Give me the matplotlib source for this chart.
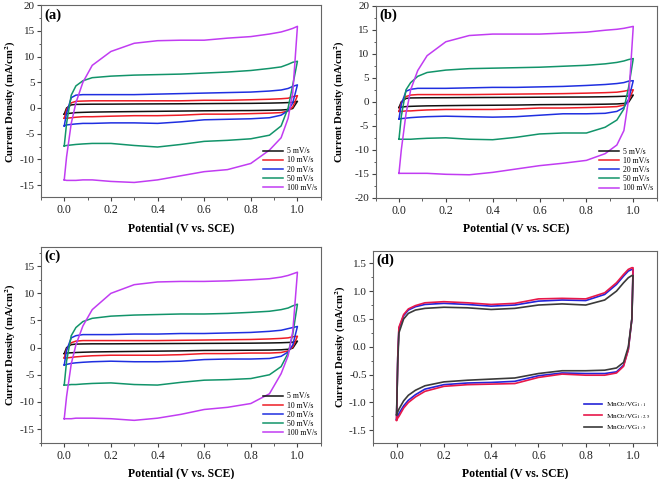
import matplotlib
matplotlib.use("Agg")
import matplotlib.pyplot as plt
from matplotlib.ticker import MultipleLocator, FormatStrFormatter

plt.rcParams['font.family'] = ['Liberation Serif', 'DejaVu Serif']
plt.rcParams['mathtext.fontset'] = 'stix'
plt.rcParams['axes.unicode_minus'] = False

# potential grid (V vs. SCE) shared by the loops of panels a-c
E = [0, 0.01, 0.03, 0.05, 0.08, 0.12, 0.2, 0.3, 0.4, 0.5, 0.6, 0.7, 0.8, 0.88, 0.93, 0.96, 0.98, 1.0]
rates = ['5 mV/s', '10 mV/s', '20 mV/s', '50 mV/s', '100 mV/s']
rate_colors = ['#111111', '#ee1c25', '#1f2fe0', '#12946a', '#c13cf2']

# panel (a): anodic (up) and cathodic (dn) branches, mA/cm2
a_up = [
    [-1.2, 0.0, 0.6, 0.7, 0.72, 0.74, 0.75, 0.78, 0.8, 0.82, 0.85, 0.88, 0.9, 0.95, 1.0, 1.05, 1.1, 1.3],
    [-2.0, -0.3, 1.0, 1.3, 1.35, 1.4, 1.4, 1.4, 1.4, 1.4, 1.5, 1.5, 1.6, 1.7, 1.8, 1.9, 2.2, 2.4],
    [-3.5, -1.0, 2.0, 2.5, 2.6, 2.6, 2.6, 2.6, 2.7, 2.8, 2.9, 3.0, 3.1, 3.3, 3.5, 3.8, 4.2, 4.5],
    [-7.4, -3.0, 2.5, 4.3, 5.3, 5.9, 6.2, 6.4, 6.5, 6.6, 6.8, 7.0, 7.3, 7.7, 8.0, 8.5, 8.9, 9.1],
    [-14.0, -9.5, -3.0, 1.0, 5.0, 8.3, 11.0, 12.6, 13.1, 13.2, 13.2, 13.6, 13.9, 14.4, 14.8, 15.2, 15.5, 15.9],
]
a_dn = [
    [-1.2, -1.1, -1.0, -0.9, -0.85, -0.8, -0.75, -0.7, -0.65, -0.6, -0.55, -0.52, -0.5, -0.45, -0.4, -0.3, -0.1, 1.3],
    [-2.0, -2.0, -1.9, -1.8, -1.7, -1.7, -1.6, -1.5, -1.5, -1.4, -1.2, -1.2, -1.1, -1.0, -0.9, -0.6, 0.2, 2.4],
    [-3.5, -3.3, -3.2, -3.1, -3.0, -3.0, -2.9, -2.9, -3.0, -2.7, -2.3, -2.2, -2.1, -1.9, -1.4, -0.5, 1.0, 4.5],
    [-7.4, -7.3, -7.2, -7.1, -7.0, -6.9, -6.9, -7.3, -7.6, -7.1, -6.5, -6.3, -6.0, -5.3, -3.5, 0.0, 4.5, 9.1],
    [-14.0, -14.1, -14.1, -14.1, -14.0, -14.0, -14.3, -14.5, -14.0, -13.2, -12.4, -12.0, -10.8, -8.2, -5.8, -2.0, 3.0, 15.9],
]

# panel (b)
b_up = [
    [-1.2, 0.0, 0.7, 0.8, 0.82, 0.84, 0.85, 0.88, 0.9, 0.92, 0.95, 0.98, 1.0, 1.05, 1.1, 1.15, 1.2, 1.4],
    [-2.0, -0.2, 1.1, 1.4, 1.5, 1.5, 1.5, 1.5, 1.55, 1.6, 1.65, 1.7, 1.8, 1.9, 2.0, 2.2, 2.4, 2.5],
    [-3.6, -0.5, 2.2, 2.6, 2.8, 2.8, 2.8, 2.9, 3.0, 3.0, 3.1, 3.2, 3.4, 3.6, 3.8, 4.0, 4.3, 4.4],
    [-7.8, -3.0, 2.5, 4.0, 5.3, 6.1, 6.6, 6.9, 7.0, 7.1, 7.2, 7.4, 7.6, 7.9, 8.2, 8.5, 8.8, 9.0],
    [-14.9, -10.0, -2.5, 2.5, 6.5, 9.6, 12.5, 13.8, 14.1, 14.1, 14.1, 14.3, 14.5, 14.9, 15.1, 15.3, 15.5, 15.7],
]
b_dn = [
    [-1.2, -1.1, -1.0, -0.95, -0.9, -0.85, -0.8, -0.75, -0.72, -0.68, -0.6, -0.57, -0.55, -0.5, -0.45, -0.35, -0.1, 1.4],
    [-2.0, -2.0, -1.9, -1.9, -1.8, -1.7, -1.6, -1.6, -1.6, -1.5, -1.3, -1.3, -1.2, -1.1, -1.0, -0.7, 0.2, 2.5],
    [-3.6, -3.5, -3.4, -3.3, -3.2, -3.1, -3.0, -3.1, -3.2, -3.1, -2.8, -2.5, -2.5, -2.4, -2.0, -1.2, 0.5, 4.4],
    [-7.8, -7.8, -7.8, -7.8, -7.7, -7.6, -7.5, -7.8, -7.9, -7.4, -6.7, -6.5, -6.5, -5.3, -3.8, -1.5, 3.0, 9.0],
    [-14.9, -14.9, -14.9, -14.9, -14.9, -14.9, -15.1, -15.2, -14.7, -14.0, -13.3, -12.8, -12.2, -10.8, -9.0, -6.0, 0.5, 15.7],
]

# panel (c)
c_up = [
    [-1.1, 0.0, 0.55, 0.65, 0.68, 0.7, 0.7, 0.72, 0.74, 0.76, 0.78, 0.8, 0.82, 0.86, 0.9, 0.95, 1.0, 1.2],
    [-1.9, -0.3, 0.9, 1.2, 1.3, 1.3, 1.3, 1.3, 1.3, 1.35, 1.4, 1.45, 1.5, 1.6, 1.7, 1.8, 2.0, 2.1],
    [-3.2, -0.5, 1.8, 2.2, 2.4, 2.4, 2.4, 2.5, 2.5, 2.6, 2.6, 2.7, 2.8, 3.0, 3.2, 3.5, 3.7, 3.9],
    [-6.9, -2.5, 2.2, 3.7, 4.8, 5.4, 5.8, 6.0, 6.1, 6.2, 6.2, 6.3, 6.5, 6.7, 7.0, 7.3, 7.7, 8.0],
    [-13.1, -9.0, -3.0, 0.5, 4.0, 7.0, 10.0, 11.6, 12.1, 12.2, 12.2, 12.3, 12.5, 12.7, 13.0, 13.3, 13.6, 13.9],
]
c_dn = [
    [-1.1, -1.0, -0.95, -0.9, -0.85, -0.8, -0.75, -0.7, -0.65, -0.6, -0.52, -0.5, -0.48, -0.45, -0.4, -0.3, -0.1, 1.2],
    [-1.9, -1.9, -1.8, -1.7, -1.6, -1.5, -1.4, -1.4, -1.4, -1.3, -1.1, -1.1, -1.0, -1.0, -0.9, -0.6, 0.1, 2.1],
    [-3.2, -3.1, -2.9, -2.8, -2.7, -2.6, -2.5, -2.6, -2.6, -2.5, -2.2, -2.1, -2.1, -2.0, -1.6, -0.8, 0.5, 3.9],
    [-6.9, -6.9, -6.8, -6.8, -6.7, -6.6, -6.5, -6.8, -6.9, -6.4, -6.0, -5.9, -5.7, -5.0, -3.5, -1.0, 2.5, 8.0],
    [-13.1, -13.1, -13.1, -13.0, -13.0, -13.0, -13.1, -13.4, -13.0, -12.3, -11.4, -11.0, -10.3, -8.5, -4.8, -1.5, 3.0, 13.9],
]

# panel (d): 5 mV/s loops of the three MnO2/VG ratios
E_d = [0, 0.005, 0.01, 0.03, 0.05, 0.08, 0.12, 0.2, 0.3, 0.4, 0.5, 0.6, 0.7, 0.8, 0.88, 0.93, 0.96, 0.98, 0.995, 1.0]
d_labels = [r'MnO$_2$/VG$_{1:1}$', r'MnO$_2$/VG$_{1:2.5}$', r'MnO$_2$/VG$_{1:5}$']
d_colors = ['#2424d8', '#e8184a', '#3a3a3a']
d_up = [
    [-1.30, -0.20, 0.33, 0.56, 0.66, 0.72, 0.76, 0.78, 0.76, 0.73, 0.75, 0.82, 0.84, 0.83, 0.94, 1.12, 1.27, 1.36, 1.39, 1.39],
    [-1.32, -0.20, 0.35, 0.58, 0.68, 0.74, 0.79, 0.81, 0.79, 0.76, 0.78, 0.86, 0.87, 0.86, 0.97, 1.15, 1.30, 1.39, 1.42, 1.42],
    [-1.22, -0.30, 0.25, 0.50, 0.60, 0.66, 0.69, 0.71, 0.70, 0.67, 0.69, 0.75, 0.77, 0.75, 0.84, 1.00, 1.15, 1.24, 1.28, 1.28],
]
d_dn = [
    [-1.30, -1.25, -1.20, -1.06, -0.96, -0.86, -0.76, -0.68, -0.65, -0.64, -0.62, -0.52, -0.47, -0.48, -0.48, -0.45, -0.33, -0.05, 0.50, 1.39],
    [-1.32, -1.28, -1.25, -1.10, -1.00, -0.90, -0.80, -0.71, -0.68, -0.67, -0.66, -0.55, -0.49, -0.51, -0.51, -0.47, -0.35, -0.05, 0.50, 1.42],
    [-1.22, -1.17, -1.12, -0.97, -0.87, -0.78, -0.70, -0.63, -0.60, -0.58, -0.56, -0.48, -0.43, -0.43, -0.42, -0.38, -0.28, 0.00, 0.50, 1.28],
]

fig = plt.figure(figsize=(6.6, 4.79), dpi=100)
boxes = [
    [0.062, 0.588, 0.424, 0.401],
    [0.569, 0.587, 0.426, 0.401],
    [0.062, 0.076, 0.424, 0.409],
    [0.565, 0.076, 0.430, 0.400],
]
ylims = [(-17.4, 20), (-20, 20), (-17.5, 18.6), (-1.72, 1.72)]
ymajor = [5, 5, 5, 0.5]
ytop = [20, 20, 15, 1.5]
ybot = [-15, -20, -15, -1.5]
ylab_x = [-0.082, -0.102, -0.082, -0.088]
panel_tags = ['(a)', '(b)', '(c)', '(d)']


def loop(x, up, dn):
    xs = list(x) + list(x[::-1])
    ys = list(up) + list(dn[::-1])
    return xs, ys


axes = []
for i, box in enumerate(boxes):
    ax = fig.add_axes(box)
    axes.append(ax)
    ax.set_xlim(-0.1, 1.1)
    ax.set_ylim(*ylims[i])
    ax.xaxis.set_major_locator(MultipleLocator(0.2))
    ax.xaxis.set_minor_locator(MultipleLocator(0.1))
    ax.xaxis.set_major_formatter(FormatStrFormatter('%.1f'))
    ax.set_yticks([v * ymajor[i] for v in range(round(ybot[i] / ymajor[i]), round(ytop[i] / ymajor[i]) + 1)])
    ax.yaxis.set_minor_locator(MultipleLocator(ymajor[i] / 2))
    if i == 3:
        ax.yaxis.set_major_formatter(FormatStrFormatter('%.1f'))
    ax.tick_params(which='major', direction='out', length=3, width=0.8, labelsize=8,
                   colors='#444444', labelcolor='#222222', pad=1.5)
    ax.tick_params(which='minor', direction='out', length=1.8, width=0.6, colors='#444444')
    ax.tick_params(axis='x', which='major', labelsize=8.5, pad=2)
    for s in ax.spines.values():
        s.set_color('#666666')
        s.set_linewidth(0.8)
    ax.set_xlabel('Potential (V vs. SCE)', fontsize=8.5, fontweight='bold', labelpad=4)
    ax.set_ylabel(r'Current Density (mA/cm$^{\mathbf{2}}$)', fontsize=7.7, fontweight='bold')
    ax.yaxis.set_label_coords(ylab_x[i], 0.5)
    ax.text(0.012, 0.985, panel_tags[i], transform=ax.transAxes, ha='left', va='top',
            fontsize=10.5, fontweight='bold')

for ax, ups, dns in zip(axes[:3], [a_up, b_up, c_up], [a_dn, b_dn, c_dn]):
    for lab, col, up, dn in zip(rates, rate_colors, ups, dns):
        xs, ys = loop(E, up, dn)
        ax.plot(xs, ys, color=col, lw=1.1, label=lab)
    ax.legend(loc='lower right', bbox_to_anchor=(1.005, 0.0), frameon=False, fontsize=5.6,
              handlelength=2.6, handletextpad=0.4, labelspacing=0.15, borderaxespad=0.3)

for lab, col, up, dn in zip(d_labels, d_colors, d_up, d_dn):
    xs, ys = loop(E_d, up, dn)
    axes[3].plot(xs, ys, color=col, lw=1.2, label=lab)
axes[3].legend(loc='lower right', bbox_to_anchor=(1.0, 0.02), frameon=False, fontsize=5.2,
               handlelength=2.6, handletextpad=0.5, labelspacing=0.35)

fig.savefig('out.png', dpi=100)
